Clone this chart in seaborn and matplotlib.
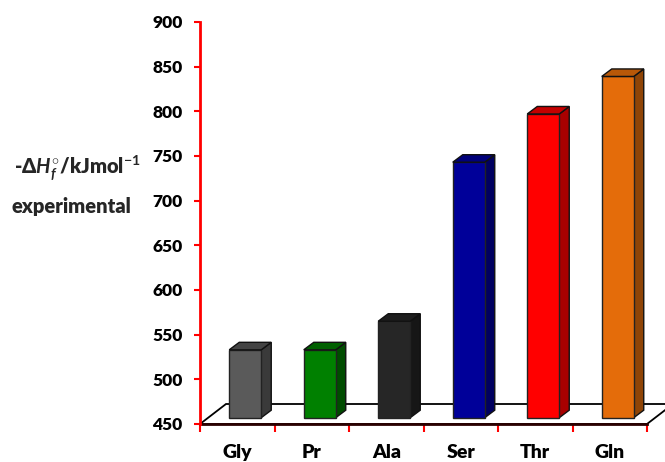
import numpy as np
import pandas as pd
import matplotlib
matplotlib.use("Agg")
import matplotlib.pyplot as plt
import seaborn as sns
from matplotlib.patches import Polygon

# ---- data ----
categories = ["Gly", "Pr", "Ala", "Ser", "Thr", "Gln"]
values = [526, 526, 558, 736, 790, 832]
front_colors = ["#5a5a5a", "#008000", "#262626", "#000099", "#ff0000", "#e46c0a"]
side_colors = ["#3a3a3a", "#004c00", "#161616", "#000060", "#a80000", "#8f4406"]
top_colors = ["#444444", "#006000", "#1e1e1e", "#00007a", "#c40000", "#b85808"]
yticks = [450, 500, 550, 600, 650, 700, 750, 800, 850, 900]

sns.set_theme(style="white")
plt.rcParams['font.family'] = ['Lato', 'DejaVu Sans']
plt.rcParams['mathtext.fontset'] = 'custom'
plt.rcParams['mathtext.rm'] = 'Lato:bold'
plt.rcParams['mathtext.it'] = 'Lato:italic:bold'
plt.rcParams['mathtext.bf'] = 'Lato:bold'

W, H = 665, 462
fig = plt.figure(figsize=(W / 100, H / 100), dpi=100)
ax = fig.add_axes([200 / W, 38 / H, 465 / W, 402 / H])

ymin, ymax = 450, 900
px_per_unit_y = 402 / (ymax - ymin)
px_per_cat = 74.5
base = ymin + 6.3 / px_per_unit_y      # floor plane where bars stand
ddx = 10 / px_per_cat                   # bar depth (x)
ddy = 7.5 / px_per_unit_y               # bar depth (y)
shift = 8 / px_per_cat                  # bars sit in middle of floor depth

df = pd.DataFrame({"cat": categories, "h": np.array(values) - ymin})
sns.barplot(data=df, x="cat", y="h", hue="cat", palette=front_colors,
            saturation=1, width=32 / px_per_cat, bottom=base, legend=False,
            edgecolor="#222222", linewidth=1.0, ax=ax, zorder=3)

# floor
fl_dx = 26 / px_per_cat
fl_dy = 20 / px_per_unit_y
floor = Polygon([(-0.5, ymin), (-0.5 + fl_dx, ymin + fl_dy),
                 (7, ymin + fl_dy), (5.5 + fl_dx + 0.5, ymin + fl_dy),
                 (5.5 + fl_dx, ymin + fl_dy), (5.5, ymin)],
                closed=True, facecolor="white", edgecolor="black",
                linewidth=1.3, zorder=1)
ax.add_patch(floor)

# 3D sides and tops
for i, p in enumerate(ax.patches[:len(categories)]):
    p.set_x(p.get_x() + shift)
    x0 = p.get_x()
    x1 = x0 + p.get_width()
    y0 = p.get_y()
    y1 = y0 + p.get_height()
    side = Polygon([(x1, y0), (x1 + ddx, y0 + ddy), (x1 + ddx, y1 + ddy), (x1, y1)],
                   closed=True, facecolor=side_colors[i], edgecolor="#111111",
                   linewidth=1.0, zorder=2.9)
    top = Polygon([(x0, y1), (x0 + ddx, y1 + ddy), (x1 + ddx, y1 + ddy), (x1, y1)],
                  closed=True, facecolor=top_colors[i], edgecolor="#111111",
                  linewidth=1.0, zorder=3.1)
    ax.add_patch(side)
    ax.add_patch(top)

ax.set_ylim(ymin, ymax)
ax.set_xlim(-0.5, -0.5 + 465 / px_per_cat)
ax.set_yticks(yticks)
ax.set_yticklabels([str(t) for t in yticks])
ax.set_xticks(range(len(categories)))
ax.set_xticklabels(categories)
ax.set_xticks(np.arange(-0.5, len(categories), 1.0), minor=True)
ax.set_xlabel("")
ax.set_ylabel("")

for s in ["top", "right"]:
    ax.spines[s].set_visible(False)
ax.spines["left"].set_color("red")
ax.spines["left"].set_linewidth(2)
ax.spines["left"].set_zorder(5)
ax.spines["bottom"].set_color("#2a0000")
ax.spines["bottom"].set_linewidth(2)
ax.spines["bottom"].set_bounds(-0.5, 5.5)

ax.tick_params(axis="y", direction="out", length=4.5, width=1.5, color="red",
               pad=8.0, labelsize=12.5, labelcolor="black", left=True)
ax.tick_params(axis="x", which="major", length=0, pad=14.5, labelsize=14,
               labelcolor="black", bottom=True)
ax.tick_params(axis="x", which="minor", direction="out", length=6, width=1.5,
               color="red", bottom=True)
for lbl in ax.get_xticklabels() + ax.get_yticklabels():
    lbl.set_fontweight("heavy")

fig.text(77 / W, 1 - 175 / H,
         r"-Δ$\mathit{H}_{\mathit{f}}^{\circ}$/kJmol$^{\mathrm{-1}}$",
         ha="center", va="baseline", fontsize=14.5, fontweight="heavy")
fig.text(71 / W, 1 - 213 / H, "experimental",
         ha="center", va="baseline", fontsize=14.5, fontweight="heavy")

fig.savefig("out.png", dpi=100)
